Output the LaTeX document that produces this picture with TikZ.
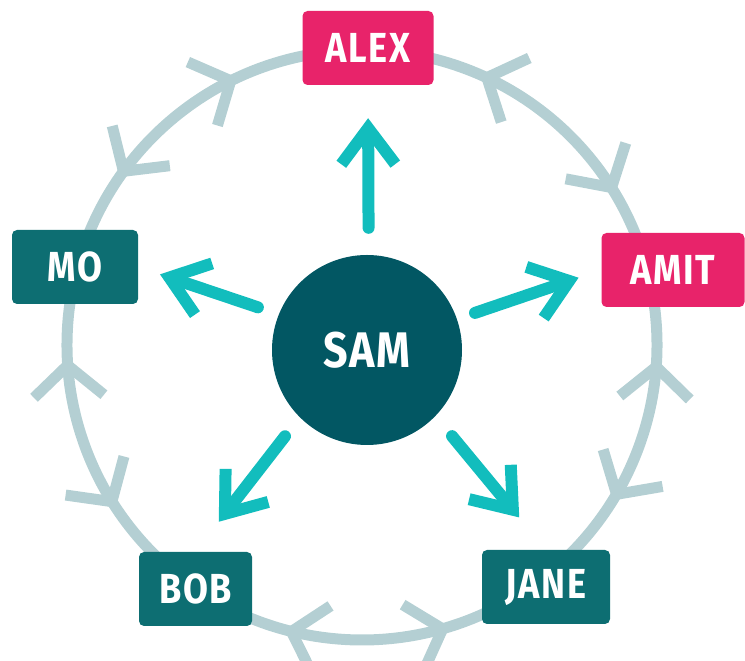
\documentclass[tikz,border=0pt]{standalone}
\usepackage{fontspec}
\newfontfamily\namefont[FakeStretch=0.86,LetterSpace=4]{Fira Sans}
\usetikzlibrary{arrows.meta,decorations.markings}
\definecolor{hot}{HTML}{E8236A}
\definecolor{deep}{HTML}{0D6E72}
\definecolor{core}{HTML}{025763}
\definecolor{spokecol}{HTML}{12BDBD}
\definecolor{ringcol}{HTML}{B4CFD3}

\begin{document}
\begin{tikzpicture}[x=1pt,y=1pt,
    person/.style={rectangle,rounded corners=5pt,minimum height=74pt,text=white,
      font=\namefont\bfseries\fontsize{42}{42}\selectfont},
    hotbox/.style={person,fill=hot},
    deepbox/.style={person,fill=deep},
    spoke/.style={draw=spokecol,line width=12pt,line cap=round,
      -{Straight Barb[length=36pt,width=54pt]}},
    ringarc/.style 2 args={draw=ringcol,line width=11pt,postaction={decorate},
      decoration={markings,
        mark=at position #1 with {\arrowreversed{Straight Barb[length=31pt,width=70pt]}},
        mark=at position #2 with {\arrow{Straight Barb[length=31pt,width=70pt]}}}}]
  \useasboundingbox (0,0) rectangle (745,661);

  % ring of friends
  \coordinate (ring) at (362,316);
  \foreach \n/\t in {Alex/90,Mo/162,Bob/234,Jane/306,Amit/18}
    \path (ring) ++(\t:295) coordinate (r\n);
  \foreach \n/\t/\p/\q in {Alex/90/.347/.769,Mo/162/.285/.715,Bob/234/.288/.74,
                           Jane/306/.308/.711,Amit/18/.178/.672}
    \draw[ringarc={\p}{\q}] (r\n) arc[start angle=\t,delta angle=72,radius=295];

  \node[hotbox,minimum width=131pt]  (Alex) at (368,613) {ALEX};
  \node[hotbox,minimum width=143pt]  (Amit) at (673,391) {AMIT};
  \node[deepbox,minimum width=126pt] (Mo)   at (75,394)  {MO};
  \node[deepbox,minimum width=113pt] (Bob)  at (195.5,72) {BOB};
  \node[deepbox,minimum width=128pt] (Jane) at (546,74)  {JANE};

  \node[circle,fill=core,minimum size=190pt,text=white,
        font=\namefont\bfseries\fontsize{50}{50}\selectfont] (Sam) at (367,311) {SAM};

  \path
    (Sam.89)  edge[spoke,shorten <=27pt,shorten >=33pt] (Alex.south)
    (Sam.158) edge[spoke,shorten <=22pt,shorten >=23pt] (Mo.east)
    (Sam.19)  edge[spoke,shorten <=19pt,shorten >=24pt] (Amit.west)
    (Sam.225) edge[spoke,shorten <=24pt,shorten >=38pt] (Bob.north)
    (Sam.-44) edge[spoke,shorten <=26pt,shorten >=42pt] (Jane.north);
\end{tikzpicture}
\end{document}
